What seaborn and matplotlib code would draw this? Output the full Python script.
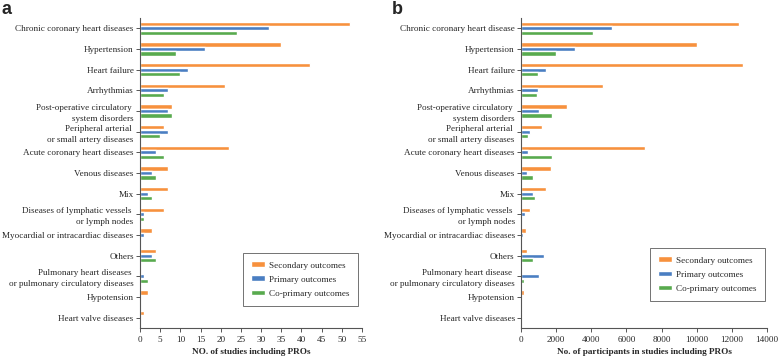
import pandas as pd
import seaborn as sns
import matplotlib.pyplot as plt

# Categories (panel a / panel b labels differ slightly)
cats_a = ['Chronic coronary heart diseases', 'Hypertension', 'Heart failure', 'Arrhythmias',
          'Post-operative circulatory \nsystem disorders',
          'Peripheral arterial \nor small artery diseases',
          'Acute coronary heart diseases', 'Venous diseases', 'Mix',
          'Diseases of lymphatic vessels \nor lymph nodes',
          'Myocardial or intracardiac diseases', 'Others',
          'Pulmonary heart diseases \nor pulmonary circulatory diseases',
          'Hypotension', 'Heart valve diseases']
cats_b = ['Chronic coronary heart disease', 'Hypertension', 'Heart failure', 'Arrhythmias',
          'Post-operative circulatory \nsystem disorders',
          'Peripheral arterial \nor small artery diseases',
          'Acute coronary heart diseases', 'Venous diseases', 'Mix',
          'Diseases of lymphatic vessels \nor lymph nodes',
          'Myocardial or intracardiac diseases', 'Others',
          'Pulmonary heart disease \nor pulmonary circulatory diseases',
          'Hypotension', 'Heart valve diseases']

outcomes = ['Secondary outcomes', 'Primary outcomes', 'Co-primary outcomes']
colors = ['#F7913D', '#4A7EC2', '#58AA4E']

# Panel a: number of studies
studies_secondary = [52, 35, 42, 21, 8, 6, 22, 7, 7, 6, 3, 4, 0, 2, 1]
studies_primary = [32, 16, 12, 7, 7, 7, 4, 3, 2, 1, 1, 3, 1, 0, 0]
studies_coprimary = [24, 9, 10, 6, 8, 5, 6, 4, 3, 1, 0, 4, 2, 0, 0]

# Panel b: number of participants
part_secondary = [12400, 10000, 12640, 4690, 2620, 1200, 7040, 1730, 1420, 490, 280, 340, 0, 150, 70]
part_primary = [5160, 3050, 1420, 990, 1000, 510, 400, 320, 680, 250, 110, 1330, 1000, 0, 0]
part_coprimary = [4100, 2000, 970, 890, 1760, 400, 1760, 680, 780, 80, 0, 660, 150, 0, 0]


def long_df(cats, series):
    rows = []
    for name, vals in zip(outcomes, series):
        for c, v in zip(cats, vals):
            rows.append({'category': c, 'value': v, 'outcome': name})
    return pd.DataFrame(rows)


df_a = long_df(cats_a, [studies_secondary, studies_primary, studies_coprimary])
df_b = long_df(cats_b, [part_secondary, part_primary, part_coprimary])

sns.set_style('ticks')
plt.rcParams['font.family'] = ['Liberation Serif', 'DejaVu Serif']

FS = 6.6
fig = plt.figure(figsize=(7.78, 3.59), dpi=100)
ax_a = fig.add_axes([140 / 778, 1 - 328 / 359, 222 / 778, 310 / 359])
ax_b = fig.add_axes([521 / 778, 1 - 328 / 359, 246 / 778, 310 / 359])

for ax, df, xmax, step, xlabel, cats, leg_anchor in [
        (ax_a, df_a, 55, 5, 'NO. of studies including PROs', cats_a, (0.982, 0.071)),
        (ax_b, df_b, 14000, 2000, 'No. of participants in studies including PROs', cats_b, (0.992, 0.087))]:
    sns.barplot(data=df, y='category', x='value', hue='outcome', hue_order=outcomes,
                order=cats, palette=colors, orient='h', width=0.64, gap=0.04,
                saturation=1, ax=ax)
    ax.set_xlim(0, xmax)
    ax.set_ylim(14.5, -0.5)
    ax.set_xticks(range(0, xmax + 1, step))
    ax.set_xlabel(xlabel, fontsize=FS, fontweight='bold', labelpad=3)
    ax.set_ylabel('')
    ax.tick_params(axis='both', labelsize=FS, length=3, width=0.7, color='#555555', pad=1.5)
    ax.tick_params(axis='x', pad=3)
    for lab in ax.get_yticklabels():
        lab.set_multialignment('right')
        lab.set_linespacing(1.5)
    for s in ['top', 'right']:
        ax.spines[s].set_visible(False)
    for s in ['left', 'bottom']:
        ax.spines[s].set_color('#555555')
        ax.spines[s].set_linewidth(0.8)
    leg = ax.legend(loc='lower right', fontsize=FS, frameon=True, fancybox=False,
                    edgecolor='#333333', handlelength=1.5, handleheight=0.6,
                    labelspacing=0.65, borderpad=0.9, handletextpad=0.45,
                    borderaxespad=0, bbox_to_anchor=leg_anchor)
    leg.get_frame().set_linewidth(0.6)

fig.text(2 / 778, 1 - 10 / 359, 'a', fontsize=13, fontweight='bold',
         family='Liberation Sans', va='center', ha='left')
fig.text(392 / 778, 1 - 10 / 359, 'b', fontsize=13, fontweight='bold',
         family='Liberation Sans', va='center', ha='left')

fig.savefig('out.png', dpi=100)
